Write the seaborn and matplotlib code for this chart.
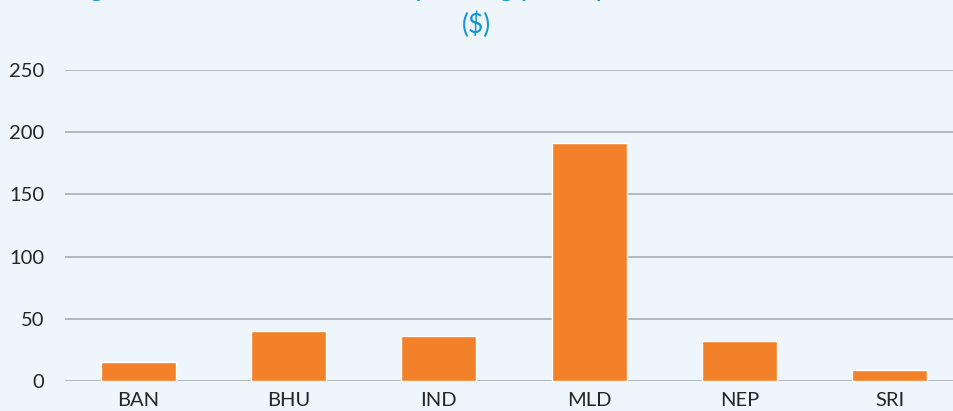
import pandas as pd
import matplotlib
matplotlib.use("Agg")
import matplotlib.pyplot as plt
import seaborn as sns

countries = ["BAN", "BHU", "IND", "MLD", "NEP", "SRI"]
spending = [15, 40, 36, 191, 32, 9]
y_ticks = [0, 50, 100, 150, 200, 250]

BG = "#EEF5FB"
BAR = "#F28129"
GRID = "#A9AEB2"
TITLE = "#1496D4"

sns.set_theme(style="white")
plt.rcParams["font.family"] = ["Lato", "DejaVu Sans"]

df = pd.DataFrame({"country": countries, "spending": spending})

fig = plt.figure(figsize=(9.54, 4.11), dpi=100, facecolor=BG)
ax = fig.add_axes([0.068, 0.073, 0.932, 0.757])
ax.set_facecolor(BG)

sns.barplot(data=df, x="country", y="spending", color=BAR, width=0.5,
            saturation=1, ax=ax, zorder=3)

ax.set_ylim(0, 250)
ax.set_xlim(-0.487, 5.427)
ax.set_yticks(y_ticks)
ax.yaxis.grid(True, color=GRID, linewidth=1.2, zorder=0)
ax.set_axisbelow(True)
for s in ax.spines.values():
    s.set_visible(False)
ax.set_xlabel("")
ax.set_ylabel("")
ax.tick_params(axis="both", length=0, labelsize=14.5, colors="#262626")
ax.tick_params(axis="y", pad=15)
ax.tick_params(axis="x", pad=8)

# title: first line runs off the top of the image in the reference
fig.text(0.5, 1.009, "Figure: Government health spending per capita in South Asia, 2014",
         ha="center", va="baseline", color=TITLE, fontsize=20)
fig.text(0.5, 0.939, "($)", ha="center", va="center", color=TITLE, fontsize=19)

fig.savefig("out.png", dpi=100, facecolor=BG)
